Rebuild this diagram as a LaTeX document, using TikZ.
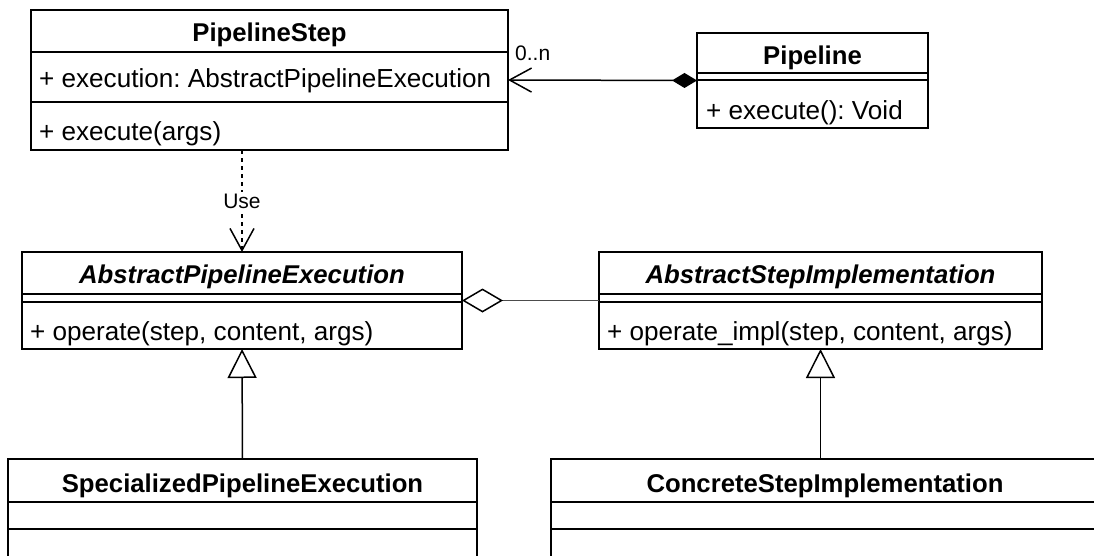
\documentclass[tikz,border=0pt]{standalone}
\usepackage{fontspec}
\setmainfont{Liberation Sans}
\usetikzlibrary{arrows.meta}
\frenchspacing

\tikzset{
  umlbox/.style={draw=black, line width=1.5pt, fill=white, inner sep=0pt,
    outer sep=0pt, anchor=north west},
  sepline/.style={draw=black, line width=1.5pt},
  classname/.style={font=\bfseries\fontsize{25.7}{30}\selectfont, anchor=base, inner sep=0pt},
  absname/.style={font=\bfseries\itshape\fontsize{25.7}{30}\selectfont, anchor=base, inner sep=0pt},
  member/.style={font=\fontsize{26.1}{30}\selectfont, anchor=base west, inner sep=0pt},
  smalllabel/.style={font=\fontsize{21}{24}\selectfont, inner sep=1pt},
  link/.style={draw=black, line width=1.5pt},
  openvee/.style={-{Straight Barb[length=22pt,width=24pt]}},
}

\begin{document}
\begin{tikzpicture}[x=1pt,y=-1pt]
\useasboundingbox (0,0) rectangle (1094,555);
\clip (0,0) rectangle (1094,555);

% PipelineStep
\node[umlbox, minimum width=477pt, minimum height=140pt] (ps) at (31,10) {};
\draw[sepline] (31,52) -- (508,52);
\draw[sepline] (31,102) -- (508,102);
\node[classname] (psname) at (269.5,41) {PipelineStep};
\node[member] (psattr) at (39,87) {+ execution: AbstractPipelineExecution};
\node[member] (psop) at (39,140) {+ execute(args)};

% Pipeline
\node[umlbox, minimum width=231pt, minimum height=95pt] (pl) at (697,33) {};
\draw[sepline] (697,73) -- (928,73);
\draw[sepline] (697,80) -- (928,80);
\node[classname] (plname) at (812.5,64) {Pipeline};
\node[member] (plop) at (706,119) {+ execute(): Void};

% AbstractPipelineExecution
\node[umlbox, minimum width=440pt, minimum height=97pt] (ape) at (22,252) {};
\draw[sepline] (22,294) -- (462,294);
\draw[sepline] (22,302) -- (462,302);
\node[absname] (apename) at (242,283) {AbstractPipelineExecution};
\node[member] (apeop) at (30,340) {+ operate(step, content, args)};

% AbstractStepImplementation
\node[umlbox, minimum width=443pt, minimum height=97pt] (asi) at (599,252) {};
\draw[sepline] (599,294) -- (1042,294);
\draw[sepline] (599,302) -- (1042,302);
\node[absname] (asiname) at (820.5,283) {AbstractStepImplementation};
\node[member] (asiop) at (607,340) {+ operate\_impl(step, content, args)};

% SpecializedPipelineExecution
\node[umlbox, minimum width=469pt, minimum height=130pt] (spe) at (8,459) {};
\draw[sepline] (8,502) -- (477,502);
\draw[sepline] (8,529) -- (477,529);
\node[classname] (spename) at (242.5,492) {SpecializedPipelineExecution};

% ConcreteStepImplementation
\node[umlbox, minimum width=548pt, minimum height=130pt] (cse) at (551,459) {};
\draw[sepline] (551,502) -- (1099,502);
\draw[sepline] (551,529) -- (1099,529);
\node[classname] (csename) at (825,492) {ConcreteStepImplementation};

% Composition: Pipeline owns 0..n steps
\draw[link, {Diamond[length=25pt,width=15pt]}-{Straight Barb[length=22pt,width=24pt]}]
  (pl.west) -- (ps.east);
\node[smalllabel, anchor=base west] (mult) at (514,60) {0..n};

% Dependency: step uses the execution
\draw[link, dash pattern=on 4pt off 4pt, openvee]
  (ps.south -| ape.north) -- (ape.north)
  node[midway, smalllabel, fill=white, inner sep=2pt] (uselbl) {Use};

% Aggregation: execution holds implementations
\draw[link, draw=black!70, -{Diamond[open,length=41pt,width=24pt,fill=white,color=black]}]
  (asi.west) -- (ape.east);

% Generalisation
\draw[link, -{Triangle[open,length=29pt,width=29pt,fill=white]}]
  (spe.north) -- (ape.south);
\draw[link, -{Triangle[open,length=29pt,width=29pt,fill=white]}]
  (asi.south |- cse.north) -- (asi.south);
\end{tikzpicture}
\end{document}
